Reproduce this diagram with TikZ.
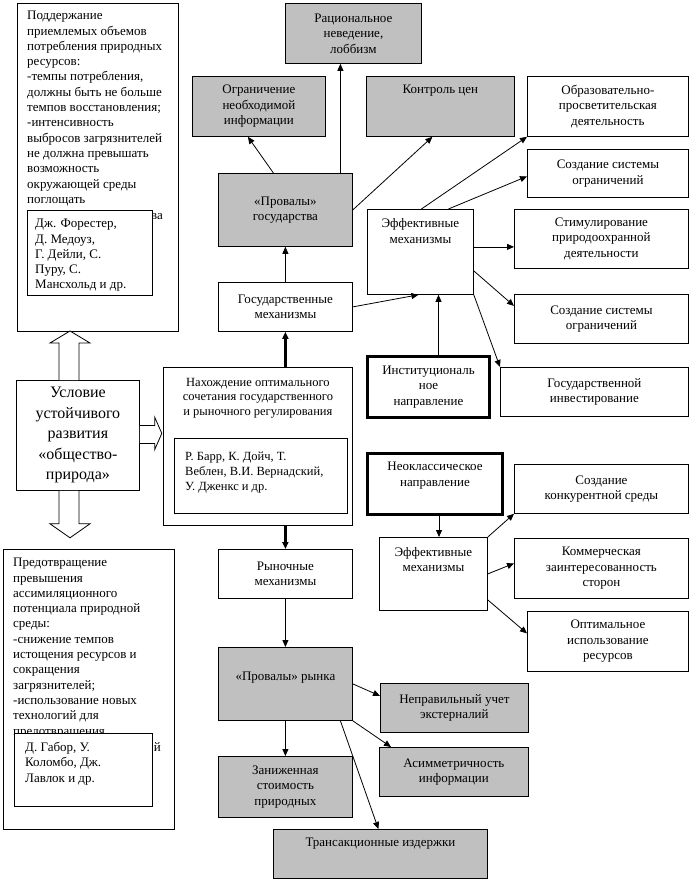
\documentclass[tikz,border=0pt]{standalone}
\usepackage{fontspec}
\setmainfont{Liberation Serif}
\usetikzlibrary{arrows.meta,positioning}
\definecolor{silver}{RGB}{192,192,192}
\tikzset{
  box/.style={draw, line width=0.8pt, inner sep=0pt, anchor=north west, align=center, font=\fontsize{13}{15.5}\selectfont},
  grey/.style={box, fill=silver},
  bold/.style={box, line width=3pt},
  txt/.style={inner sep=0pt, align=center, font=\fontsize{13}{15.3}\selectfont},
  wh/.style 2 args={minimum width=#1pt, minimum height=#2pt},
  pointer/.style={line width=0.8pt, -{Triangle[length=7pt,width=6pt]}},
  hollow/.style={draw, line width=0.8pt, fill=white, line join=miter},
}

\begin{document}
\begin{tikzpicture}[x=1pt, y=-1pt]
\useasboundingbox (0,0) rectangle (692,881);
%%%%% left column %%%%%
\node[box, wh={161}{328}] (keep) at (17,3) {};
\node[txt, align=left, anchor=north west] (keep-txt) at (27,11) {Поддержание\\приемлемых объемов\\потребления природных\\ресурсов:\\-темпы потребления,\\должны быть не больше\\темпов восстановления;\\-интенсивность\\выбросов загрязнителей\\не должна превышать\\возможность\\окружающей среды\\поглощать};
\node[txt, anchor=base east] (keep-end) at (163,219) {ва};
\node[box, fill=white, wh={125}{85}] (authA) at (27,210) {};
\node[txt, align=left, anchor=north west] (authA-txt) at (35,219) {Дж. Форестер,\\Д. Медоуз,\\Г. Дейли, С.\\Пуру, С.\\Мансхольд и др.};

\node[box, wh={123}{110}, font=\fontsize{16}{20.5}\selectfont] (cond) at (16,380) {Условие\\устойчивого\\развития\\«общество-\\природа»};

\node[box, wh={171}{280}] (avoid) at (3,549) {};
\node[txt, align=left, anchor=north west] (avoid-txt) at (13,558) {Предотвращение\\превышения\\ассимиляционного\\потенциала природной\\среды:\\-снижение темпов\\истощения ресурсов и\\сокращения\\загрязнителей;\\-использование новых\\технологий для\\предотвращения};
\node[txt, anchor=base east] (avoid-end) at (161,751) {й};
\node[box, fill=white, wh={138}{73}] (authB) at (14,733) {};
\node[txt, align=left, anchor=north west] (authB-txt) at (25,742) {Д. Габор, У.\\Коломбо, Дж.\\Лавлок и др.};

%%%%% block arrows %%%%%
\draw[hollow] (cond.north west) ++(43,0) -- ++(0,-37) -- ++(-9,0) -- ++(20,-12) -- ++(20,12) -- ++(-11,0) -- ++(0,37);
\draw[hollow] (cond.south west) ++(43,0) -- ++(0,33) -- ++(-9,0) -- ++(20,14) -- ++(20,-14) -- ++(-11,0) -- ++(0,-33);
\draw[hollow] (cond.east) ++(0,-10) -- ++(15,0) -- ++(0,-8) -- ++(7,16) -- ++(-7,16) -- ++(0,-6) -- ++(-15,0);

%%%%% middle column %%%%%
\node[box, wh={189}{158}] (optimal) at (163,367) {};
\node[txt, below=11pt of optimal.north, font=\fontsize{12.5}{14.5}\selectfont] (optimal-txt) {Нахождение оптимального\\сочетания государственного\\и рыночного регулирования};
\node[box, wh={173}{75}] (authC) at (174,438) {};
\node[txt, align=left, anchor=north west, font=\fontsize{12.5}{15}\selectfont] (authC-txt) at (185,452) {Р. Барр, К. Дойч, Т.\\Веблен, В.И. Вернадский,\\У. Дженкс и др.};

\node[box, wh={134}{49}] (statemech) at (218,282) {Государственные\\механизмы};
\node[grey, wh={134}{73}] (statefail) at (218,173) {«Провалы»\\государства};
\node[grey, wh={133}{60}] (infolimit) at (192,76) {Ограничение\\необходимой\\информации};
\node[grey, wh={136}{60}] (ignorance) at (285,3) {Рациональное\\неведение,\\лоббизм};
\node[grey, wh={148}{60}] (prices) at (366,76) {};
\node[txt, below=9pt of prices.north] (prices-txt) {Контроль цен};

\node[box, wh={134}{49}] (marketmech) at (218,549) {Рыночные\\механизмы};
\node[grey, wh={134}{73}] (marketfail) at (218,647) {};
\node[txt, below=25pt of marketfail.north] (marketfail-txt) {«Провалы» рынка};
\node[grey, wh={134}{61}] (lowcost) at (218,756) {Заниженная\\стоимость\\природных};
\node[grey, wh={148}{49}] (extern) at (380,683) {Неправильный учет\\экстерналий};
\node[grey, wh={149}{49}] (asym) at (379,747) {Асимметричность\\информации};
\node[grey, wh={214}{49}] (trans) at (273,829) {};
\node[txt, below=9pt of trans.north] (trans-txt) {Трансакционные издержки};

%%%%% right column %%%%%
\node[box, wh={106}{85}] (effA) at (367,209) {};
\node[txt, below=9pt of effA.north, font=\fontsize{13}{16.5}\selectfont] (effA-txt) {Эффективные\\механизмы};
\node[box, wh={161}{60}] (educ) at (527,76) {Образовательно-\\просветительская\\деятельность};
\node[box, wh={161}{48}] (limitA) at (527,149) {Создание системы\\ограничений};
\node[box, wh={174}{59}] (stimul) at (514,209) {Стимулирование\\природоохранной\\деятельности};
\node[box, wh={174}{49}] (limitB) at (514,294) {Создание системы\\ограничений};
\node[box, wh={188}{49}] (invest) at (500,367) {Государственной\\инвестирование};
\node[bold, wh={122}{61}] (inst) at (366,355) {Институциональ\\ное\\направление};

\node[bold, wh={135}{61}] (neo) at (366,452) {};
\node[txt, below=10pt of neo.north] (neo-txt) {Неоклассическое\\направление};
\node[box, wh={108}{73}] (effB) at (379,537) {};
\node[txt, below=10pt of effB.north] (effB-txt) {Эффективные\\механизмы};
\node[box, wh={174}{49}] (compet) at (514,464) {Создание\\конкурентной среды};
\node[box, wh={174}{60}] (commerce) at (514,538) {Коммерческая\\заинтересованность\\сторон};
\node[box, wh={161}{60}] (useres) at (527,611) {Оптимальное\\использование\\ресурсов};

%%%%% arrows %%%%%
\draw[pointer, line width=2.5pt] (optimal.north -| statemech.south) -- (statemech.south);
\draw[pointer, line width=2.5pt] (optimal.south -| marketmech.north) -- (marketmech.north);
\draw[pointer] (statemech.north) -- (statefail.south);
\draw[pointer] ([xshift=-12pt]statefail.north) -- ([xshift=-11pt]infolimit.south);
\draw[pointer] ([xshift=55pt]statefail.north) coordinate (s) -- (s |- ignorance.south);
\draw[pointer] (statefail.east) -- ([xshift=-8pt]prices.south);
\draw[pointer] (statemech.east) -- ([xshift=-2pt]effA.south);
\draw[pointer] ([xshift=10pt]inst.north) coordinate (s) -- (s |- effA.south);
\draw[pointer] ([xshift=1pt]effA.north) -- (educ.south west);
\draw[pointer] ([xshift=28pt]effA.north) -- ([yshift=-3pt]limitA.west);
\draw[pointer] ([yshift=5pt]effA.east) coordinate (s) -- (s -| stimul.west);
\draw[pointer] ([yshift=-19pt]effA.east) -- ([yshift=13pt]limitB.west);
\draw[pointer] (effA.south east) -- (invest.north west);
\draw[pointer] ([xshift=4pt]neo.south) coordinate (s) -- (s |- effB.north);
\draw[pointer] (effB.north east) -- (compet.south west);
\draw[pointer] (effB.east) -- ([yshift=5pt]commerce.west);
\draw[pointer] ([yshift=-26pt]effB.east) -- ([yshift=8pt]useres.west);
\draw[pointer] (marketmech.south) -- (marketfail.north);
\draw[pointer] (marketfail.south) -- (lowcost.north);
\draw[pointer] (marketfail.east) -- ([yshift=12pt]extern.west);
\draw[pointer] (marketfail.south east) -- ([xshift=12pt]asym.north west);
\draw[pointer] ([xshift=55pt]marketfail.south) -- ([xshift=-2pt]trans.north);
\end{tikzpicture}
\end{document}
